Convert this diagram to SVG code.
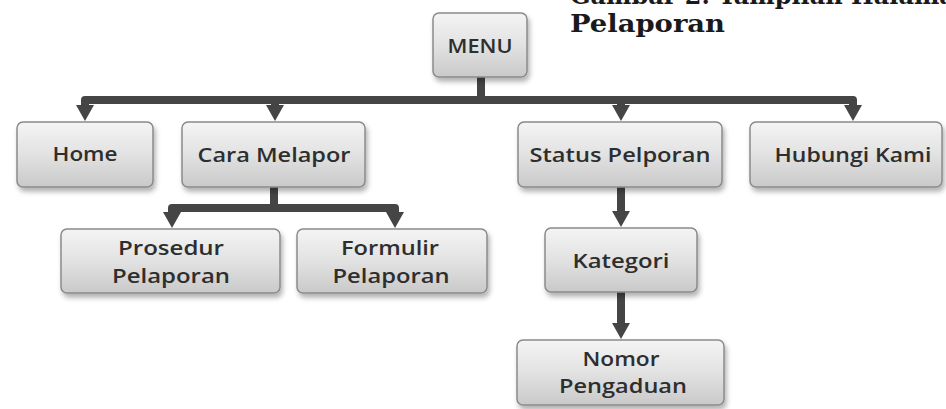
<svg xmlns="http://www.w3.org/2000/svg" width="946" height="409" viewBox="0 0 946 409">
  <style>
    .box { fill: url(#g); stroke: #8a8a8a; stroke-width: 1.5; filter: url(#sh); }
    .lbl { font-family: "Open Sans", "Liberation Sans", sans-serif; font-size: 20px; font-weight: 600; fill: #2e2e2e; text-anchor: middle; }
    .ttl { font-family: "DejaVu Serif", "Liberation Serif", serif; font-weight: bold; font-size: 24px; fill: #1a1a1a; }
    .con { fill: none; stroke: #454545; stroke-width: 8; stroke-linejoin: round; }
  </style>
  <defs>
    <linearGradient id="g" x1="0" y1="0" x2="0" y2="1">
      <stop offset="0" stop-color="#f4f4f4"/>
      <stop offset="0.5" stop-color="#e2e2e2"/>
      <stop offset="1" stop-color="#c9c9c9"/>
    </linearGradient>
    <filter id="sh" x="-10%" y="-10%" width="125%" height="140%">
      <feDropShadow dx="2" dy="4" stdDeviation="2.5" flood-color="#000" flood-opacity="0.3"/>
    </filter>
    <marker id="ah" markerUnits="userSpaceOnUse" markerWidth="18" markerHeight="18" viewBox="0 0 16 18" refX="1" refY="9" orient="auto">
      <path d="M0,0 L16,9 L0,18 Z" fill="#454545"/>
    </marker>
  </defs>

  <rect width="946" height="409" fill="#ffffff"/>

  <g id="title">
    <text class="ttl" x="570" y="4">Gambar 2. Tampilan Halaman</text>
    <text class="ttl" x="570" y="32" textLength="155" lengthAdjust="spacingAndGlyphs">Pelaporan</text>
  </g>

  <g id="connectors">
    <path class="con" d="M481,77 V100"/>
    <path class="con" d="M481,100 H85 V106" marker-end="url(#ah)"/>
    <path class="con" d="M481,100 H853 V106" marker-end="url(#ah)"/>
    <path class="con" d="M275,100 V106" marker-end="url(#ah)"/>
    <path class="con" d="M621,100 V106" marker-end="url(#ah)"/>
    <path class="con" d="M274,187 V208"/>
    <path class="con" d="M274,208 H172 V213" marker-end="url(#ah)"/>
    <path class="con" d="M274,208 H395 V213" marker-end="url(#ah)"/>
    <path class="con" d="M621,187 V212" marker-end="url(#ah)"/>
    <path class="con" d="M621,292 V324" marker-end="url(#ah)"/>
  </g>

  <g id="menu">
    <rect class="box" x="433" y="13" width="94" height="64" rx="6"/>
    <text class="lbl" x="480" y="53" textLength="65" lengthAdjust="spacingAndGlyphs">MENU</text>
  </g>
  <g id="home">
    <rect class="box" x="17" y="122" width="136" height="65" rx="6"/>
    <text class="lbl" x="85" y="161" textLength="65" lengthAdjust="spacingAndGlyphs">Home</text>
  </g>
  <g id="cara-melapor">
    <rect class="box" x="182" y="122" width="183" height="65" rx="6"/>
    <text class="lbl" x="274" y="162" textLength="153" lengthAdjust="spacingAndGlyphs">Cara Melapor</text>
  </g>
  <g id="status-pelporan">
    <rect class="box" x="518" y="122" width="204" height="65" rx="6"/>
    <text class="lbl" x="620" y="162" textLength="181" lengthAdjust="spacingAndGlyphs">Status Pelporan</text>
  </g>
  <g id="hubungi-kami">
    <rect class="box" x="750" y="122" width="192" height="65" rx="6"/>
    <text class="lbl" x="853" y="162" textLength="157" lengthAdjust="spacingAndGlyphs">Hubungi Kami</text>
  </g>
  <g id="prosedur-pelaporan">
    <rect class="box" x="61" y="229" width="219" height="64" rx="6"/>
    <text class="lbl" x="171" y="255" textLength="106" lengthAdjust="spacingAndGlyphs">Prosedur</text>
    <text class="lbl" x="171" y="283" textLength="118" lengthAdjust="spacingAndGlyphs">Pelaporan</text>
  </g>
  <g id="formulir-pelaporan">
    <rect class="box" x="297" y="229" width="190" height="64" rx="6"/>
    <text class="lbl" x="390" y="255" textLength="98" lengthAdjust="spacingAndGlyphs">Formulir</text>
    <text class="lbl" x="391" y="283" textLength="117" lengthAdjust="spacingAndGlyphs">Pelaporan</text>
  </g>
  <g id="kategori">
    <rect class="box" x="545" y="228" width="152" height="64" rx="6"/>
    <text class="lbl" x="621" y="268" textLength="97" lengthAdjust="spacingAndGlyphs">Kategori</text>
  </g>
  <g id="nomor-pengaduan">
    <rect class="box" x="517" y="340" width="207" height="65" rx="6"/>
    <text class="lbl" x="621" y="366" textLength="77" lengthAdjust="spacingAndGlyphs">Nomor</text>
    <text class="lbl" x="623" y="393" textLength="128" lengthAdjust="spacingAndGlyphs">Pengaduan</text>
  </g>
</svg>
